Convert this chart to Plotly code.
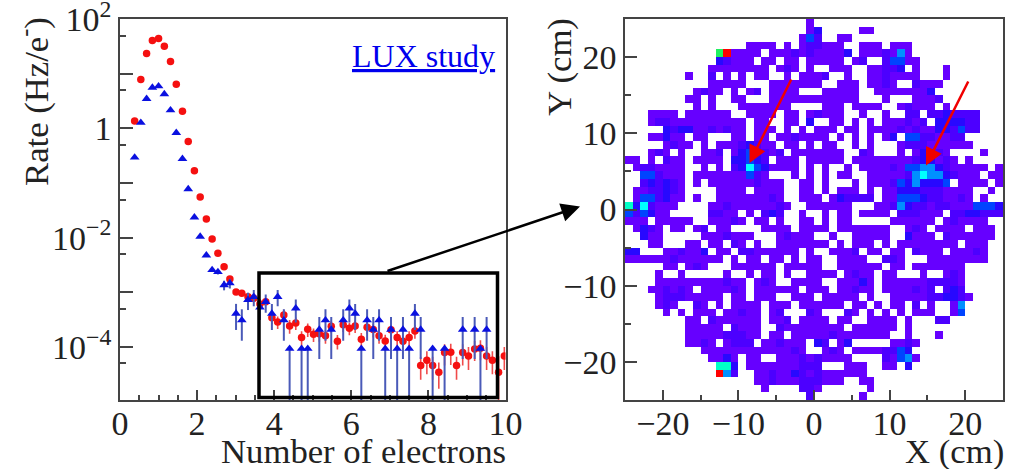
import plotly.graph_objects as go

# ---------- left panel data ----------
electrons = [0.38,0.54,0.69,0.84,1.00,1.15,1.31,1.46,1.62,1.77,1.93,2.08,2.24,2.39,2.54,2.70,2.85,3.01,3.16,3.32,3.47,
             3.63,3.78,3.94,4.09,4.25,4.40,4.56,4.71,4.87,5.02,5.17,5.33,5.48,5.64,5.79,5.95,6.10,6.26,6.41,6.57,6.72,
             6.88,7.03,7.19,7.34,7.50,7.65,7.80,7.96,8.11,8.27,8.42,8.58,8.73,8.89,9.04,9.20,9.35,9.51,9.66,9.82,9.97]
red_rate = [1.36,7.87,23.5,40.6,44.2,32,16.8,6.45,2.07,0.578,0.168,0.0555,0.022,0.00946,0.00519,0.00295,0.00176,
            0.00102,0.000964,0.000834,0.00078,0.000614,0.000676,0.000344,0.000288,0.000386,0.000243,0.000276,
            0.000149,0.000211,0.000171,0.000174,0.00016,0.00024,0.000128,0.000254,0.000221,0.000243,0.000139,
            0.00023,0.000208,0.00016,0.000129,0.000206,0.000149,0.000128,0.000149,0.000197,4.57e-5,5.74e-5,4.57e-5,
            3.46e-5,7.9e-5,8.04e-5,4.57e-5,7.9e-5,6.87e-5,9.23e-5,9.5e-5,6.87e-5,5.74e-5,3.46e-5,6.87e-5]
red_rel = [0,0,0,0,0,0,0,0,0,0,0,0,0,0,0,0.05,0.08,0.1,0.1,0.1,0.1,0.12,0.12,0.24,0.26,0.24,0.28,0.26,0.3,0.28,0.28,
           0.28,0.28,0.26,0.3,0.26,0.26,0.26,0.3,0.26,0.28,0.28,0.3,0.28,0.3,0.3,0.3,0.28,0.45,0.45,0.45,0.5,0.42,
           0.42,0.45,0.42,0.45,0.4,0.4,0.45,0.45,0.95,0.45]
blue_rate = [0.295,1.27,3.48,5.6,5.93,4.24,2.16,0.83,0.278,0.0776,0.0236,0.0105,0.00477,0.00257,0.00236,0.00136,
             0.00147,4.1e-4,3.1e-4,7.3e-4,8.3e-4,5.3e-4,6.7e-4,4.1e-4,8.3e-4,3.1e-4,9.3e-5,5.1e-4,9.3e-5,9.3e-5,None,
             2.08e-4,3.1e-4,2.08e-4,None,3.1e-4,5.1e-4,4.1e-4,9.3e-5,3.1e-4,2.08e-4,3.1e-4,9.3e-5,2.08e-4,9.3e-5,
             2.08e-4,9.3e-5,4.1e-4,2.08e-4,None,9.3e-5,None,9.3e-5,None,None,2.08e-4,None,2.08e-4,9.3e-5,2.08e-4,
             None,None,None]
blue_rel_down = [0,0,0,0,0,0,0,0,0,0,0,0,0,0,0.1,0.2,0.2,0.5,0.58,0.35,0.33,0.41,0.37,0.5,0.33,0.58,0.999,0.45,0.999,
                 0.999,0,0.71,0.58,0.71,0,0.58,0.45,0.5,0.999,0.58,0.71,0.58,0.999,0.71,0.999,0.71,0.999,0.5,0.71,0,
                 0.999,0,0.999,0,0,0.71,0,0.71,0.999,0.71,0,0,0]
blue_rel_up = [0,0,0,0,0,0,0,0,0,0,0,0,0,0,0.1,0.2,0.2,0.5,0.58,0.35,0.33,0.41,0.37,0.5,0.33,0.58,0,0.45,0,
               0,0,0.71,0.58,0.71,0,0.58,0.45,0.5,0,0.58,0.71,0.58,0,0.71,0,0.71,0,0.5,0.71,0,
               0,0,0,0,0,0.71,0,0.71,0,0.71,0,0,0]
x_ticks_left = [0, 2, 4, 6, 8, 10]
rate_major = [100, 1, 0.01, 0.0001]
rate_major_text = ["10<sup>2</sup>", "1", "10<sup>\u22122</sup>", "10<sup>\u22124</sup>"]
rate_odd = [10, 0.1, 0.001, 0.00001]
rate_minor = [50, 5, 0.5, 0.05, 0.005, 0.0005, 0.00005]

# ---------- right panel data: counts per 1 cm x 1 cm bin, top row first ('.' = empty) ----------
heat_left = [
"........................1",
"........................1",
".......................14",
"................1111.1.12",
"............89" + "1111.111212",
"............32111.11.11.1",
"...........11111111.121.1",
"........1..2.1.1.11..1.11",
"...........11111...111111",
".........1211.1.12.1111..",
"........11.1..11...111111",
".........1.1...1111111...",
"...1111.111111..1111.11.1",
"...1221111111111.11..11.3",
".....32331121211.111.1.1.",
"...11311.11...11.11.11211",
".....1211.1.11123211.11.1",
"...121.1..112.1343212.111",
"11.1.211.1111.33432.111.1",
".1221111..1.1.236431111.1",
"..442111.1111111421...1.1",
"..232321.1.1111112111..11",
".1122321....1111.1111..11",
".1442311.1..111111121..11",
"7362111....11211111121..1",
"424311.....2211.1.232..1.",
"111.11111..11121.11.1..11",
".1321.11.12.11....1111.11",
"..311.....1112111...12111",
"...11...11.11.21.1..11111",
"33...112113.11.22111111.1",
"1111112111111.1.11.11.1.1",
".....11.121...111111.1111",
"....1..1.....1..1.11.1..1",
"....111111111211.121..111",
"...112121.111121.111111.1",
"....122211111.11.111..111",
"....121..21.1.1111.111.11",
".....1.1.111.11211.12...2",
"........11.2111111.112.11",
"........11111.2111..21111",
"........1111122211.11.111",
"........1121.1222.112111.",
"..........11111111111121.",
"...........1131.11..11121",
"............773.111111122",
"............952..11211321",
".................11211122",
"..................1....22",
"........................2",
]
heat_right = [
".........................",
"3.....11.................",
"2..11....................",
"2111..111.111............",
"11113.1112151............",
"1111.12..24411...........",
"..111..11223.1...1.......",
"12..1..1121111...1.......",
"1..111.1121..2111........",
".11111..11111113.........",
"111111...1...1112........",
".111.1111..12111.1.......",
"2111..1..1..22.2232222...",
"..11.1.1.111212.333322...",
"111.11.111121211332422...",
"11.1.1.1.13.44221122.....",
".11..1.1...1222111111....",
"1111..21...1.13321....1..",
"1111.11111111233121.1....",
".1..1.11112144553211111.1",
".1.11..111112565532111.11",
".1...1.11124353334.1111.1",
".1.111.1.113332221111..1.",
"1.132222.114443221121.1..",
"11111...11253221221114443",
".1.11.1111.222111.2233222",
".1.11.....111111.121111..",
"11.1111111..121.1111.111.",
"..1..11111..3111.2111111.",
"11.1.111.1.11111111.111..",
"..1112.11.11.2111.11121..",
"1..1111..221...11111111..",
"1..111111.11.1111111.....",
"111.1211.11...1..121.....",
"1..11131.11111122221.....",
"11.11211.1111212.232.....",
".11111.1..11111223321....",
"1111.11.1.11.2.1..15.....",
"1...21.1.1.1.111..14.....",
"11.11..1111.1...22.......",
"1111.111111.1............",
"1121111111..1...1........",
"32.13.....1121...........",
".121.11112243............",
"21111....21451...........",
"2...111..11.3............",
"2111111..................",
"2111..11.................",
"1......1.................",
"......1..................",
]
level_colors = ["#6600ff", "#4c00ff", "#2808ff", "#0044ff", "#0090ff", "#00ffff", "#00ffc8", "#20f060", "#ff0000"]
x_bins = [-24.5 + k for k in range(50)]
y_bins = [24.5 - k for k in range(50)]

W, H = 1015, 469
SERIF = "Liberation Serif"
INK = "#222222"
FRAME = "#444444"


def px(x):
    return x / W


def py(y):
    return 1 - y / H


def to_z(ch):
    return None if ch == "." else int(ch)


z = []
for left, right in zip(heat_left, heat_right):
    row = (left + right)[:50].ljust(50, ".")
    z.append([to_z(c) for c in row])

n = len(level_colors)
scale = []
for k, c in enumerate(level_colors):
    scale += [[k / n, c], [(k + 1) / n, c]]

fig = go.Figure()

fig.add_trace(go.Scatter(
    x=electrons, y=red_rate, mode="markers", name="red", xaxis="x", yaxis="y",
    marker=dict(symbol="circle", size=7.5, color="#f51010"),
    error_y=dict(type="data", symmetric=True, array=[r * e for r, e in zip(red_rate, red_rel)],
                 color="#f04a4a", thickness=1.6, width=0),
))
fig.add_trace(go.Scatter(
    x=electrons, y=blue_rate, mode="markers", name="blue", xaxis="x", yaxis="y",
    marker=dict(symbol="triangle-up", size=8.5, color="#0a10e0"),
    error_y=dict(type="data", symmetric=False,
                 array=[(r or 0) * e for r, e in zip(blue_rate, blue_rel_up)],
                 arrayminus=[(r or 0) * e for r, e in zip(blue_rate, blue_rel_down)],
                 color="#4a5ab8", thickness=2, width=0),
))
fig.add_trace(go.Heatmap(
    x=x_bins, y=y_bins, z=z, xaxis="x2", yaxis="y2", zmin=0.5, zmax=n + 0.5,
    colorscale=scale, showscale=False, hoverongaps=False,
))
# empty trace so the overlaying axis carrying the odd-decade ticks is drawn
fig.add_trace(go.Scatter(x=[], y=[], xaxis="x", yaxis="y3", hoverinfo="skip"))

axis_common = dict(showgrid=False, zeroline=False, showline=True, mirror=True, linecolor=FRAME, linewidth=1.5,
                   tickcolor=FRAME, tickwidth=1.5, ticks="inside", automargin=False, ticklabeloverflow="allow",
                   tickfont=dict(family=SERIF, size=34, color=INK))
LOG_RANGE = [-4.97, 2.002]

fig.update_layout(
    width=W, height=H, margin=dict(l=0, r=0, t=0, b=0), showlegend=False,
    paper_bgcolor="white", plot_bgcolor="white",
    xaxis=dict(domain=[px(120), px(505.5)], range=[0, 10], anchor="y", tickvals=x_ticks_left, ticklen=10,
               ticklabelstandoff=-8,
               minor=dict(dtick=0.5, ticks="inside", ticklen=5, tickcolor=FRAME, tickwidth=1.5), **axis_common),
    yaxis=dict(domain=[py(400), py(19)], type="log", range=LOG_RANGE, anchor="x",
               tickvals=rate_major, ticktext=rate_major_text, ticklen=13,
               minor=dict(tickmode="array", tickvals=rate_minor, ticks="inside", ticklen=6.5,
                          tickcolor=FRAME, tickwidth=1.5), **axis_common),
    yaxis3=dict(overlaying="y", anchor="x", side="left", type="log", range=LOG_RANGE, tickvals=rate_odd,
                ticks="inside", ticklen=13, tickcolor=FRAME, tickwidth=1.5, showticklabels=False,
                showgrid=False, zeroline=False, showline=False, automargin=False),
    xaxis2=dict(domain=[px(625), px(1003)], range=[-25, 25], anchor="y2", dtick=10, tick0=0, ticklen=10,
                ticklabelstandoff=-8,
                minor=dict(dtick=5, ticks="inside", ticklen=5, tickcolor=FRAME, tickwidth=1.5), **axis_common),
    yaxis2=dict(domain=[py(400), py(19)], range=[-25, 25], anchor="x2", dtick=10, tick0=0, ticklen=12,
                minor=dict(dtick=5, ticks="inside", ticklen=6, tickcolor=FRAME, tickwidth=1.5), **axis_common),
    shapes=[dict(type="rect", xref="paper", yref="paper", x0=px(259), x1=px(497.5), y0=py(397.5), y1=py(273),
                 line=dict(color="black", width=3.5), fillcolor="rgba(0,0,0,0)")],
)


def label(text, x, y, size=34.7, color=INK, angle=0, xanchor="center", yanchor="middle"):
    fig.add_annotation(text=text, x=px(x), y=py(y), xref="paper", yref="paper", showarrow=False,
                       font=dict(family=SERIF, size=size, color=color), textangle=angle,
                       xanchor=xanchor, yanchor=yanchor)


label("Number of electrons", 508, 451, xanchor="right")
label("X (cm)", 1006, 451, xanchor="right")
label("Rate (Hz/e<sup>-</sup>)", 33, 102, angle=-90)
label("Y (cm)", 560, 67, angle=-90)
label("<u>LUX study</u>", 350, 55.5, size=32, color="#0000ee", xanchor="left")


def arrow(x0, y0, x1, y1, color, width, size):
    fig.add_annotation(x=px(x1), y=py(y1), xref="paper", yref="paper", ax=x0 - x1, ay=y0 - y1,
                       axref="pixel", ayref="pixel", showarrow=True, text="", arrowhead=2,
                       arrowsize=size, arrowwidth=width, arrowcolor=color)


arrow(386, 271.5, 580, 206.5, "black", 2.5, 1.5)
arrow(792, 78, 749.5, 163, "#f00000", 2.5, 1.4)
arrow(969, 80, 926, 165.5, "#f00000", 2.5, 1.4)

fig.write_html("out.html", config=dict(displayModeBar=False),
               post_script="document.body.style.margin='0';")
